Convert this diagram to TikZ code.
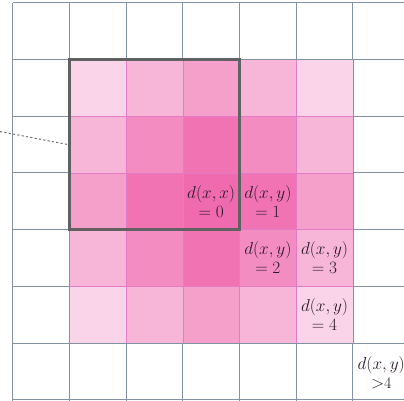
\documentclass[tikz,border=0pt]{standalone}
\definecolor{gridgray}{HTML}{8292A2}
\definecolor{boxgray}{HTML}{616161}
\definecolor{pinkline}{HTML}{E27CC6}
\definecolor{txt}{HTML}{2A1A28}
\definecolor{pA}{HTML}{FAD4E8}
\definecolor{pB}{HTML}{F7B5D7}
\definecolor{pC}{HTML}{F59FCB}
\definecolor{pD}{HTML}{F38CC1}
\definecolor{pE}{HTML}{F173B4}
\definecolor{pF}{HTML}{EF6AAF}
\tikzset{
  gridline/.style={draw=gridgray, line width=0.9pt},
  innerline/.style={draw=pinkline, line width=0.6pt},
  winbox/.style={draw=boxgray, line width=2.8pt, minimum width=170.1pt, minimum height=170.1pt, inner sep=0pt},
  lbl/.style={align=center, inner sep=0pt, text=txt, font=\fontsize{16}{19}\selectfont},
  leader/.style={draw=boxgray!90, line width=1pt, dash pattern=on 2.2pt off 2.2pt}
}
\begin{document}
\begin{tikzpicture}[x=1pt,y=-1pt]
\useasboundingbox (0,0) rectangle (404,400);
\clip (0,0) rectangle (404,400);
\fill[white] (0,0) rectangle (404,400);
% grid
\foreach \i in {0,...,7}{
  \draw[gridline] ({12.7+\i*56.7},2.8) -- ({12.7+\i*56.7},402);
  \draw[gridline] (12.7,{2.8+\i*56.7}) -- (406,{2.8+\i*56.7});
}
% pink cells
\foreach \r/\c/\col in {1/1/pA,1/2/pB,1/3/pC,1/4/pB,1/5/pA,
                        2/1/pB,2/2/pD,2/3/pE,2/4/pD,2/5/pB,
                        3/1/pC,3/2/pE,3/3/pF,3/4/pE,3/5/pC,
                        4/1/pB,4/2/pD,4/3/pE,4/4/pD,4/5/pB,
                        5/1/pA,5/2/pB,5/3/pC,5/4/pB,5/5/pA}{
  \fill[\col] ({12.7+\c*56.7},{2.8+\r*56.7}) rectangle ({12.7+(\c+1)*56.7},{2.8+(\r+1)*56.7});
}
% inner pink lines
\foreach \i in {2,...,5}{
  \draw[innerline] ({12.7+\i*56.7},59.5) -- ({12.7+\i*56.7},343);
  \draw[innerline] (69.4,{2.8+\i*56.7}) -- (353.2,{2.8+\i*56.7});
}
% outer boundary of pink area
\draw[gridline] (69.4,59.5) rectangle (353.2,343);
% window box
\node[winbox] (win) at (154.45,144.55) {};
\coordinate (far) at (0,131.5);
\draw[leader] (far) -- (win.west);
% labels
\node[lbl] (t0) at (211.15,201.25) {$d(x,x)$\\$=0$};
\node[lbl] (t1) at (267.85,201.25) {$d(x,y)$\\$=1$};
\node[lbl] (t2) at (267.85,257.95) {$d(x,y)$\\$=2$};
\node[lbl] (t3) at (324.55,257.95) {$d(x,y)$\\$=3$};
\node[lbl] (t4) at (324.55,314.65) {$d(x,y)$\\$=4$};
\node[lbl] (t5) at (381.25,372.5) {$d(x,y)$\\$>$4};
\end{tikzpicture}
\end{document}
